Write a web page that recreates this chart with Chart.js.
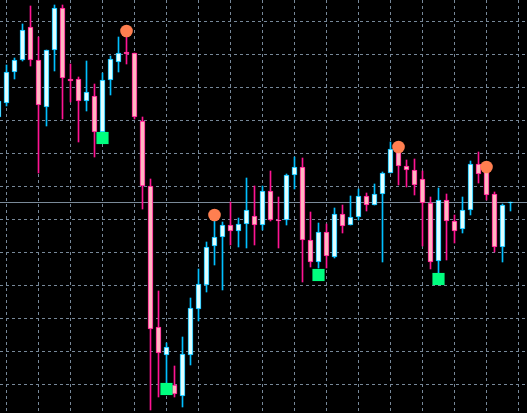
<!DOCTYPE html>
<html>
<head>
<meta charset="utf-8">
<script src="https://cdn.jsdelivr.net/npm/chart.js@4.4.1/dist/chart.umd.min.js"></script>
<style>
  html, body { margin: 0; padding: 0; background: #000; overflow: hidden; }
  #wrap { width: 527px; height: 413px; position: relative; }
</style>
</head>
<body>
<div id="wrap"><canvas id="chart"></canvas></div>
<script>
// levels are read straight off the picture (0 = top edge), so the price axis is reversed
const opens  = [117,103,72,60,27,60,107,50,8,79,79,101,96,132,80,62,52,53,121,186,327,355,385,396,355,309,285,246,237,225,231,224,216,225,191,220,220,175,167,240,262,232,257,214,225,217,196,205,194,173,151,166,170,179,203,261,200,221,229,210,164,172,194,247,203];
const highs  = [99,65,58,24,6,37,50,5,5,64,77,61,84,73,56,37,37,53,117,179,291,343,366,337,298,269,242,220,222,202,218,178,186,186,171,197,174,157,158,212,223,224,208,205,196,189,193,184,172,142,143,160,159,171,197,188,194,215,197,161,152,162,192,204,202];
const lows   = [119,106,79,61,66,173,126,71,119,102,142,111,157,138,95,72,64,119,209,410,397,385,397,407,365,321,292,265,290,245,247,248,245,230,221,248,225,189,282,267,268,268,258,233,225,220,211,205,262,173,185,187,195,246,269,273,260,243,233,215,183,200,252,262,211];
const closes = [101,72,60,30,60,105,50,8,78,81,101,92,132,80,59,53,54,117,186,329,353,347,394,354,308,284,247,237,225,231,224,210,225,191,220,221,175,167,240,262,232,256,214,226,217,196,205,194,173,149,166,170,185,203,262,200,221,231,210,164,174,195,247,205,202];

const highMarkBar   = [16, 27, 50, 61];
const highMarkLevel = [31, 215, 147, 167];
const lowMarkBar    = [13, 21, 40, 55];
const lowMarkLevel  = [138, 389, 275, 279];

const bidLevel = 202.5;

const xGridBars   = [1,5,9,13,17,21,25,29,33,37,41,45,49,53,57,61,65];
const yGridLevels = [21.5,54.5,87.5,120.5,153.5,186.5,219.5,252.5,285.5,318.5,351.5,384.5];

const bullBorder = '#00BFFF', bullFill = '#E0FFFF';
const bearBorder = '#FF1493', bearFill = '#FFB6C1';

const isBull = opens.map((o, i) => closes[i] < o);
const borderCols = isBull.map(b => b ? bullBorder : bearBorder);
const fillCols = isBull.map(b => b ? bullFill : bearFill);

const wicks = opens.map((_, i) => ({ x: i, y: [highs[i], lows[i]] }));
const bodies = opens.map((o, i) => ({ x: i, y: [o, closes[i]] }));

new Chart(document.getElementById('chart'), {
  type: 'bar',
  data: {
    datasets: [
      {
        type: 'scatter',
        data: highMarkBar.map((b, i) => ({ x: b, y: highMarkLevel[i] })),
        backgroundColor: '#FF7F50',
        borderWidth: 0,
        pointRadius: 6.3,
        pointStyle: 'circle',
        order: 1
      },
      {
        type: 'scatter',
        data: lowMarkBar.map((b, i) => ({ x: b, y: lowMarkLevel[i] })),
        backgroundColor: '#00FF7F',
        borderWidth: 0,
        pointRadius: 8.6,
        pointStyle: 'rect',
        order: 1
      },
      {
        data: bodies,
        backgroundColor: fillCols,
        borderColor: borderCols,
        borderWidth: 1,
        borderSkipped: false,
        barThickness: 5,
        grouped: false,
        order: 2
      },
      {
        data: wicks,
        backgroundColor: borderCols,
        borderWidth: 0,
        barThickness: 1,
        grouped: false,
        order: 3
      },
      {
        type: 'line',
        data: [{ x: -5, y: bidLevel }, { x: 70, y: bidLevel }],
        borderColor: '#7A8A99',
        borderWidth: 1,
        pointRadius: 0,
        order: 4
      }
    ]
  },
  options: {
    responsive: true,
    maintainAspectRatio: false,
    animation: false,
    layout: { padding: 0, autoPadding: false },
    plugins: { legend: { display: false }, tooltip: { enabled: false } },
    scales: {
      x: {
        type: 'linear',
        min: 0.1875,
        max: 66.0625,
        offset: false,
        grid: { color: '#778899', lineWidth: 1, drawTicks: false, offset: false },
        border: { display: false, dash: [3, 3] },
        ticks: { display: false },
        afterBuildTicks: s => { s.ticks = xGridBars.map(v => ({ value: v })); }
      },
      y: {
        type: 'linear',
        reverse: true,
        min: 0,
        max: 413,
        grid: { color: '#778899', lineWidth: 1, drawTicks: false },
        border: { display: false, dash: [3, 3] },
        ticks: { display: false },
        afterBuildTicks: s => { s.ticks = yGridLevels.map(v => ({ value: v })); }
      }
    }
  }
});
</script>
</body>
</html>
